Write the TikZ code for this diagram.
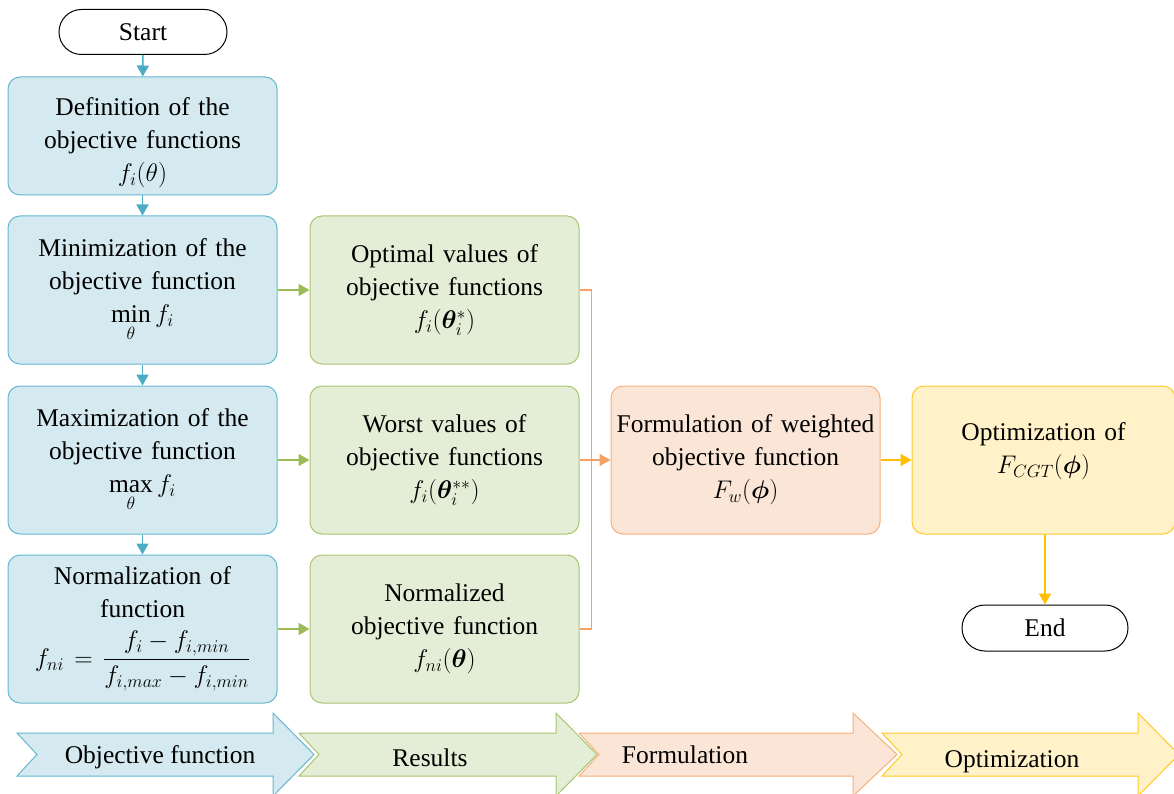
\documentclass[tikz,border=0pt]{standalone}
\usepackage{fix-cm}
\usepackage{amsmath,bm}
\usepackage{fontspec}
\setmainfont{Liberation Serif}
\usepackage{tikz}
\usetikzlibrary{shapes,shapes.misc,arrows.meta,calc,positioning}

\definecolor{objfill}{HTML}{D5E9F0}
\definecolor{objline}{HTML}{4BACC6}
\definecolor{resfill}{HTML}{E4EDD6}
\definecolor{resline}{HTML}{9BBB59}
\definecolor{frmfill}{HTML}{FBE5D6}
\definecolor{frmline}{HTML}{F6A265}
\definecolor{optfill}{HTML}{FFF2C9}
\definecolor{optline}{HTML}{FFC000}

\begin{document}
\begin{tikzpicture}[x=1pt,y=-1pt]
	\tikzstyle{every node}=[font=\fontsize{25.5}{33}\selectfont]
	\tikzstyle{term}=[rounded rectangle, draw, line width=1pt, minimum width=168pt, minimum height=45pt, inner sep=0pt]
	\tikzstyle{box}=[rectangle, rounded corners=12pt, minimum width=269pt, minimum height=148pt, text width=262pt, align=center, inner sep=0pt, line width=1pt]
	\tikzstyle{objbox}=[box, fill=objfill, draw=objline!85]
	\tikzstyle{resbox}=[box, fill=resfill, draw=resline!85]
	\tikzstyle{frmbox}=[box, fill=frmfill, draw=frmline!85]
	\tikzstyle{optbox}=[box, fill=optfill, draw=optline!85]
	\tikzstyle{link}=[line width=1.7pt, -{Triangle[length=11pt,width=12pt]}]
	\useasboundingbox (0,0) rectangle (1174,794);
	% flow column
	\node[term] (start) at (143,32) {Start};
	\node[objbox, minimum height=118pt] (def) at (142.5,136) {\rule{0pt}{32pt}Definition of the\\objective functions\\$f_i(\theta)$};
	\node[objbox, below=20pt of def] (mini) {Minimization of the\\objective function\\$\min\limits_{\theta} f_i$};
	\node[objbox, below=21pt of mini] (maxi) {Maximization of the\\objective function\\$\max\limits_{\theta} f_i$};
	\node[objbox, below=20pt of maxi] (norm) {Normalization of\\function\\[12pt]$f_{ni}=\dfrac{f_i-f_{i,min}}{f_{i,max}-f_{i,min}}$};
	% results
	\node[resbox, right=32pt of mini] (best) {Optimal values of\\objective functions\\$f_i(\bm{\theta}_i^{*})$};
	\node[resbox, right=32pt of maxi] (worst) {Worst values of\\objective functions\\$f_i(\bm{\theta}_i^{**})$};
	\node[resbox, right=32pt of norm] (normres) {Normalized\\objective function\\$f_{ni}(\bm{\theta})$};
	\node[frmbox, right=31pt of worst] (form) {Formulation of weighted\\objective function\\$F_w(\bm{\phi})$};
	\node[optbox, right=31pt of form, minimum width=263pt, text width=256pt] (opt) {Optimization of\\$F_{CGT}(\bm{\phi})$\\[-9pt]~};
	\node[term, minimum width=166pt, minimum height=46pt] (end) at (1045,628) {End};
	% connectors
	\draw[link, objline] (start) -- (def);
	\draw[link, objline] (def) -- (mini);
	\draw[link, objline] (mini) -- (maxi);
	\draw[link, objline] (maxi) -- (norm);
	\draw[link, resline] (mini) -- (best);
	\draw[link, resline] (maxi) -- (worst);
	\draw[link, resline] (norm) -- (normres);
	\draw[frmline, line width=1.7pt] (best.east) -- ++(12,0) |- (normres.east);
	\draw[link, frmline] (worst) -- (form);
	\draw[link, optline] (form) -- (opt);
	\draw[link, optline] (opt.south -| end.north) -- (end);
	% stage arrows
	\foreach \xl/\xh/\xt/\fc/\dc/\tx/\ty/\lbl in {17/273/314/objfill/objline/160/757/Objective function, 299/556/597/resfill/resline/430/758/Results, 579/853/897/frmfill/frmline/685/755/Formulation, 882/1138/1179/optfill/optline/1012/762/Optimization}{
		\filldraw[fill=\fc, draw=\dc!85, line width=1pt] (\xl,733) -- (\xh,733) -- (\xh,713) -- (\xt,754.5) -- (\xh,796) -- (\xh,776) -- (\xl,776) -- (\xl+20,754.5) -- cycle;
		\node at (\tx,\ty) {\lbl};
	}
\end{tikzpicture}
\end{document}
